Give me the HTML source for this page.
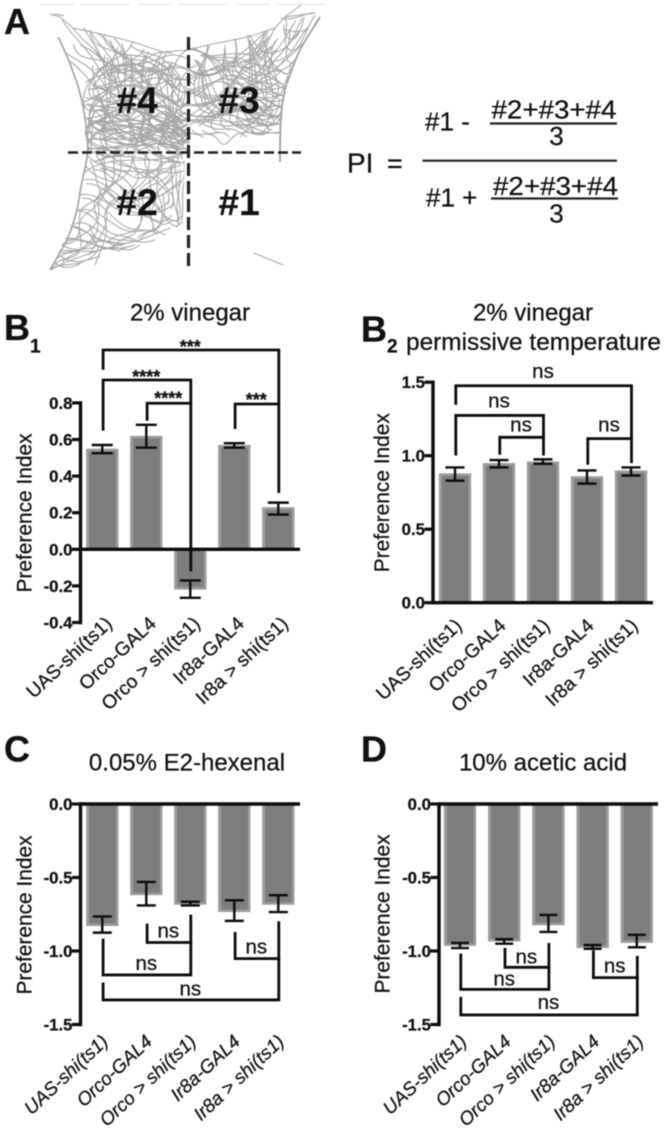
<!DOCTYPE html>
<html lang="en">
<head>
<meta charset="utf-8">
<title>Preference index figure</title>
<style>
html,body{margin:0;padding:0;background:#fff;width:666px;height:1129px;overflow:hidden}
svg{display:block;filter:blur(.4px)}
text{font-family:"Liberation Sans",Arial,sans-serif;fill:#111;stroke:#111;stroke-width:.25}
.traj{fill:none;stroke:#a6a6a6;stroke-width:1.05}
</style>
</head>
<body>
<svg id="fig" xmlns="http://www.w3.org/2000/svg" width="666" height="1129" viewBox="0 0 666 1129">
  <defs>
    <clipPath id="arena-clip">
      <polygon points="50,14 97,33 163,52 208,45 275,28 315,13 300,50 287,83 281,117 280,136 190,138 189,152 185,152 183,225 140,240 50,270 75,217 87,153 83,100 70,63"/>
    </clipPath>
  </defs>
  <rect width="666" height="1129" fill="#fff"/>

  <g>
    <line x1="40" y1="4.5" x2="325" y2="4.5" stroke="#e4e4e4" stroke-width="1" stroke-dasharray="34 6 50 8"/>
    <path fill="none" stroke="#a0a0a0" stroke-width="1.6" d="M58 37 C65 50 70 63 76 80 S85 115 87 133 S87 160 83 177 S80 200 75 217 S68 238 63 247 S55 262 50 270"/>
    <path fill="none" stroke="#a0a0a0" stroke-width="1.8" d="M320 17 C312 30 305 40 300 50 S291 72 287 83 S282 105 281 117 S280 145 280 162"/>
    <path class="traj" d="M50 14 L60 17 L73 28 L97 33 L133 42 L163 52 L187 50 L208 45 L248 37 L275 28 L285 17 L315 13 M301 5 L285 17 M52 15 C56 14 60 14 64 16 M50 270 L66 262 L100 250 L140 240 L170 228"/>
    <path id="q4" class="traj" d="M62 20 C75 40 85 45 95 62 S110 85 125 80 S150 60 165 75 S180 95 187 90
M73 28 C85 45 100 50 110 70 S118 100 135 105 S165 100 187 120
M90 30 C92 50 105 45 120 55 S135 80 150 75 S175 60 188 70
M97 33 C110 40 122 58 118 75 S95 90 90 110 S105 135 125 128 S160 140 187 135
M133 42 C125 60 105 60 95 75 S88 100 100 100 S140 85 160 95 S180 115 188 100
M163 52 C150 65 155 85 140 95 S110 115 92 125 S95 150 120 148
M187 50 C170 60 175 80 160 90 S135 120 115 115 S95 100 88 135
M88 90 C105 85 130 75 150 85 S175 110 187 105
M85 105 C110 110 125 95 145 110 S170 130 188 125
M88 120 C110 125 130 115 150 125 S170 140 187 142
M90 140 C110 135 130 145 150 135 S175 125 188 145
M88 150 C105 145 125 150 145 145 S175 150 186 148
M105 55 C100 75 112 95 105 120 S110 145 118 150
M120 50 C130 70 120 95 130 120 S125 140 135 150
M145 55 C135 80 150 105 142 125 S150 145 155 150
M172 62 C160 85 175 105 165 125 S172 145 178 150
M95 70 C115 62 135 68 155 60 S175 55 186 58
M92 85 C115 95 135 100 150 115 S170 120 186 112
M100 110 C120 100 125 125 145 120 S165 105 180 128
M112 70 C130 60 145 70 150 90 S140 125 160 130 S182 135 188 128
M130 45 C140 55 155 50 170 65 S180 80 178 100 S165 130 185 140
M95 95 C105 105 115 135 135 135 S170 115 185 132
M110 40 C115 55 128 62 140 60 S165 80 185 80
M90 125 C100 115 115 140 130 140 S150 118 170 128 S178 148 187 150
M122 100 C135 110 150 100 165 115 S178 125 186 118
M100 130 C120 120 135 128 155 142 S180 138 188 140"/>
    <path id="q3" class="traj" d="M189 48 C205 52 215 60 225 75 S250 85 265 70 S285 50 300 30
M208 45 C205 65 195 75 200 95 S220 115 240 105 S270 100 283 110
M248 37 C250 55 255 70 250 90 S240 120 260 125 S278 115 282 120
M250 40 C258 60 265 65 280 60 S295 40 310 25
M275 28 C265 45 260 60 272 75 S285 85 288 75
M285 17 C290 30 280 45 290 50 S305 30 315 15
M280 18 C295 22 305 12 315 13
M189 80 C205 70 225 62 245 68 S275 80 284 85
M189 95 C210 85 225 70 240 85 S265 100 283 95
M189 105 C205 110 225 90 245 100 S270 115 282 105
M190 115 C210 120 225 110 240 118 S265 105 280 120
M189 125 C205 115 220 130 235 125 S255 135 280 133
M192 130 C200 140 210 128 218 140 S230 135 240 133 S265 135 280 132
M195 60 C210 75 205 100 220 110 S245 95 255 110 S260 125 275 125
M225 48 C220 70 235 90 228 105 S215 125 230 130
M265 42 C255 60 240 70 230 85 S205 110 195 120
M275 50 C260 75 280 90 270 105 S250 125 245 120
M190 70 C205 80 215 75 230 65 S255 50 272 35
M235 42 C240 55 228 65 240 75 S268 85 282 70
M189 88 C200 98 215 100 230 95 S260 85 280 100
M200 55 C215 60 232 55 245 60 S262 50 268 38
M195 120 C215 125 228 98 250 115 S268 128 281 112
M255 72 C262 85 250 100 262 110 S275 118 280 100"/>
    <path id="q2" class="traj" d="M87 155 C100 170 115 165 130 175 S150 170 170 160
M85 165 C100 185 110 175 125 190 S155 200 172 175
M84 180 C100 175 115 195 130 205 S155 215 170 200
M80 195 C100 190 115 215 135 215 S160 230 172 215
M78 210 C95 205 110 225 125 230 S150 225 165 235
M72 225 C90 215 100 240 120 240 S140 245 155 240
M66 240 C85 235 95 250 110 248 S125 255 140 245
M58 258 C75 245 85 255 100 250 S115 255 125 248
M52 268 C65 262 75 268 90 258 S95 245 90 235
M55 265 C62 255 75 262 80 250 S72 225 85 215 S110 195 105 175 S100 160 110 155
M62 262 C70 255 85 250 95 235 S85 205 100 195 S125 175 120 158
M95 265 C100 250 110 235 105 220 S125 200 135 185 S128 165 135 155
M110 250 C120 235 135 240 140 225 S130 195 145 185 S165 170 160 155
M140 240 C150 225 160 235 162 215 S150 195 165 185 S175 165 172 155
M90 160 C100 180 95 200 115 205 S140 190 150 200 S170 225 178 220
M135 175 C150 165 165 175 178 162
M100 168 C120 175 140 165 155 180 S170 190 168 205
M170 165 C175 185 170 195 176 210 S170 225 183 215
M178 170 C172 185 182 200 180 215
M75 240 C90 240 105 255 135 245
M60 255 C70 265 85 262 100 256
M55 262 C60 270 75 268 82 262
M85 172 C100 160 125 160 145 160 S170 155 180 158
M150 160 C145 175 155 190 150 205 S160 225 150 232"/>
    <g clip-path="url(#arena-clip)">
      <use href="#q4" transform="rotate(9 135 95) translate(4 6)"/>
      <use href="#q4" transform="rotate(-11 135 95) translate(-6 3)"/>
      <use href="#q3" transform="rotate(8 235 85) translate(-4 5)"/>
      <use href="#q3" transform="rotate(-7 235 85) translate(5 -4)"/>
      <use href="#q2" transform="rotate(10 120 205) translate(3 -5)"/>
    </g>
    <line x1="254" y1="253" x2="283" y2="265" stroke="#a9a9a9" stroke-width="1.2"/>
    <line x1="68" y1="152.5" x2="301" y2="152.5" stroke="#222" stroke-width="2.6" stroke-dasharray="10 4"/>
    <line x1="188.5" y1="37" x2="188.5" y2="269" stroke="#222" stroke-width="3.2" stroke-dasharray="13 5"/>
    <text x="116.5" y="113" font-size="37" font-weight="bold">#4</text>
    <text x="218.5" y="113" font-size="37" font-weight="bold">#3</text>
    <text x="116.5" y="215" font-size="37" font-weight="bold">#2</text>
    <text x="218.5" y="215" font-size="37" font-weight="bold">#1</text>
  </g>

  <g>
    <text x="347" y="172.7" font-size="28">PI</text>
    <text x="387" y="172.7" font-size="27">=</text>
    <text x="425" y="130.7" font-size="26">#1 -</text>
    <text x="491.5" y="118.3" font-size="26" textLength="125" lengthAdjust="spacingAndGlyphs">#2+#3+#4</text>
    <line x1="490" y1="123.5" x2="617" y2="123.5" stroke="#222" stroke-width="2.2"/>
    <text x="556.5" y="145" font-size="26" text-anchor="middle">3</text>
    <line x1="422.5" y1="160.7" x2="617" y2="160.7" stroke="#222" stroke-width="2.2"/>
    <text x="426" y="206.7" font-size="26">#1 +</text>
    <text x="493" y="195" font-size="26" textLength="125" lengthAdjust="spacingAndGlyphs">#2+#3+#4</text>
    <line x1="491" y1="198.5" x2="618" y2="198.5" stroke="#222" stroke-width="2.2"/>
    <text x="556.5" y="222.3" font-size="26" text-anchor="middle">3</text>
  </g>

  <g font-weight="bold">
    <text x="4" y="34" font-size="36" font-weight="bold">A</text>
    <text x="4" y="340" font-size="36" font-weight="bold">B</text>
    <text x="30" y="352.7" font-size="19" font-weight="bold">1</text>
    <text x="361" y="341.5" font-size="36" font-weight="bold">B</text>
    <text x="387" y="352.7" font-size="19" font-weight="bold">2</text>
    <text x="4" y="761.7" font-size="36" font-weight="bold">C</text>
    <text x="361" y="761.7" font-size="36" font-weight="bold">D</text>
  </g>

  <g>
    <text x="190" y="320.7" font-size="24" text-anchor="middle">2% vinegar</text>
    <text x="533" y="320.7" font-size="24" text-anchor="middle">2% vinegar</text>
    <text x="406" y="350" font-size="24.4" textLength="255" lengthAdjust="spacingAndGlyphs">permissive temperature</text>
    <text x="187" y="770.7" font-size="24" text-anchor="middle">0.05% E2-hexenal</text>
    <text x="543" y="770.7" font-size="24" text-anchor="middle">10% acetic acid</text>
  </g>
</svg>

<script>
// Shared category labels
const categories = ["UAS-shi(ts1)", "Orco-GAL4", "Orco > shi(ts1)", "Ir8a-GAL4", "Ir8a > shi(ts1)"];

// B1: 2% vinegar
const b1Values = [0.55, 0.62, -0.22, 0.57, 0.23];
const b1ErrLow = [0.525, 0.555, -0.265, 0.555, 0.19];
const b1ErrHigh = [0.57, 0.68, -0.17, 0.58, 0.255];
const b1Ticks = ["0.8", "0.6", "0.4", "0.2", "0.0", "-0.2", "-0.4"];
// [from bar, to bar, bracket level, left end value, right end value]
const b1Brackets = [[0, 4, 1.089, 0.989, 0.315], [0, 2, 0.925, 0.656, -0.113], [1, 2, 0.798, 0.71, 0.798], [3, 4, 0.794, 0.665, 0.794]];
// [bar position, baseline value, text]
const b1Notes = [[2, 1.073, "***"], [1, 0.91, "****"], [1.5, 0.792, "****"], [3.5, 0.783, "***"]];

// B2: 2% vinegar, permissive temperature
const b2Values = [0.88, 0.95, 0.96, 0.86, 0.9];
const b2ErrLow = [0.83, 0.92, 0.945, 0.81, 0.865];
const b2ErrHigh = [0.92, 0.97, 0.975, 0.9, 0.92];
const b2Ticks = ["1.5", "1.0", "0.5", "0.0"];
const b2Brackets = [[0, 4, 1.476, 1.356, 0.959], [0, 2, 1.274, 1.011, 1.011], [1, 2, 1.125, 1.016, 1.125], [3, 4, 1.116, 0.948, 1.116]];
const b2Notes = [[2, 1.527, "ns"], [1, 1.329, "ns"], [1.5, 1.163, "ns"], [3.5, 1.163, "ns"]];

// C: 0.05% E2-hexenal
const cValues = [-0.83, -0.62, -0.685, -0.735, -0.685];
const cErrLow = [-0.875, -0.69, -0.69, -0.795, -0.735];
const cErrHigh = [-0.765, -0.53, -0.665, -0.655, -0.62];
const cTicks = ["0.0", "-0.5", "-1.0", "-1.5"];
const cBrackets = [[1, 2, -0.942, -0.823, -0.942], [0, 2, -1.163, -0.925, -0.762], [3, 4, -1.052, -0.88, -1.052], [0, 4, -1.333, -1.224, -0.807]];
const cNotes = [[1.5, -0.907, "ns"], [1, -1.129, "ns"], [3.5, -1.016, "ns"], [2, -1.304, "ns"]];

// D: 10% acetic acid
const dValues = [-0.965, -0.935, -0.825, -0.98, -0.945];
const dErrLow = [-0.98, -0.95, -0.87, -0.985, -0.975];
const dErrHigh = [-0.945, -0.92, -0.755, -0.96, -0.89];
const dTicks = ["0.0", "-0.5", "-1.0", "-1.5"];
const dBrackets = [[1, 2, -1.111, -0.988, -1.111], [0, 2, -1.261, -1.027, -0.955], [3, 4, -1.181, -1.005, -1.181], [0, 4, -1.435, -1.322, -1.043]];
const dNotes = [[1.5, -1.084, "ns"], [1, -1.233, "ns"], [3.5, -1.145, "ns"], [2, -1.396, "ns"]];

const NS = "http://www.w3.org/2000/svg";
const fig = document.getElementById("fig");

function make(tag, attrs, parent, text) {
  const node = document.createElementNS(NS, tag);
  for (const k in attrs) node.setAttribute(k, attrs[k]);
  if (text !== undefined) node.textContent = text;
  parent.appendChild(node);
  return node;
}

function drawChart(id, values, errLow, errHigh, ticks, brackets, notes, frame) {
  const barX = i => frame.firstBar + i * frame.step;
  const valueY = v => frame.zero - v * frame.unit;
  const ink = "#0c0c0c";

  const group = make("g", {}, fig);
  
  

  values.forEach((v, i) => {
    const y0 = valueY(0), y1 = valueY(v);
    const top = Math.min(y0, y1), h = Math.abs(y1 - y0);
    const outer = make("rect", {x: barX(i) - frame.barWidth / 2, y: top, width: frame.barWidth, height: h, fill: "#9c9c9c"}, group);
    
    
    const innerH = Math.max(0, h - 2.5);
    const innerTop = v >= 0 ? top + 2.5 : top;
    const inner = make("rect", {x: barX(i) - frame.barWidth / 2 + 3, y: innerTop, width: frame.barWidth - 5.5, height: innerH, fill: "#7e7e7e"}, group);
    
    
  });

  errLow.forEach((low, i) => {
    const x = barX(i), high = errHigh[i], hw = frame.cap / 2;
    const err = make("path", {
      d: "M" + (x - hw) + " " + valueY(high) + "H" + (x + hw) + "M" + x + " " + valueY(high) + "V" + valueY(low) + "M" + (x - hw) + " " + valueY(low) + "H" + (x + hw),
      fill: "none", stroke: ink, "stroke-width": 2.4
    }, group);
    
    
  });

  const tickValues = ticks.map(parseFloat);
  const yAxis = make("line", {x1: frame.axisX, x2: frame.axisX, y1: valueY(Math.max(...tickValues)) - 1.7, y2: valueY(Math.min(...tickValues)) + 1.7, stroke: ink, "stroke-width": 3.4}, group);
  
  

  const xAxis = make("line", {x1: frame.axisX, x2: frame.axisEnd, y1: valueY(0), y2: valueY(0), stroke: ink, "stroke-width": 3.4}, group);
  
  

  ticks.forEach(label => {
    const v = parseFloat(label), y = valueY(v);
    const tick = make("line", {x1: frame.axisX - 8.5, x2: frame.axisX, y1: y, y2: y, stroke: ink, "stroke-width": 3.2}, group);
    
    
    const tickText = make("text", {x: frame.axisX - 8, y: y + 6, "font-size": 16.8, "font-weight": "bold", "text-anchor": "end"}, group, label);
    
    
  });

  const title = make("text", {
    transform: "translate(" + frame.titleX + " " + frame.titleY + ") rotate(-90)",
    "font-size": 20.9, "text-anchor": "middle"
  }, group, "Preference Index");
  
  

  categories.forEach((name, i) => {
    const cat = make("text", {
      transform: "translate(" + (barX(i) + frame.labelDx) + " " + frame.labelY + ") rotate(-43)",
      "font-size": frame.labelSize, "text-anchor": "end", "font-style": frame.italic ? "italic" : "normal"
    }, group, name);
    
    
  });

  brackets.forEach((b, i) => {
    const xa = barX(b[0]) + 0.8, xb = barX(b[1]) + 0.5;
    const br = make("path", {
      d: "M" + xa + " " + valueY(b[3]) + "V" + valueY(b[2]) + "H" + xb + "M" + xb + " " + valueY(b[4]) + "V" + valueY(b[2]),
      fill: "none", stroke: ink, "stroke-width": 2.8, "stroke-linecap": "square"
    }, group);
    
    
  });

  notes.forEach((n, i) => {
    const stars = n[2].indexOf("*") >= 0;
    const note = make("text", {
      x: barX(n[0]), y: valueY(n[1]), "font-size": stars ? 18 : 20.5, "font-weight": stars ? "bold" : "normal", "text-anchor": "middle"
    }, group, n[2]);
    
    
  });
}

drawChart("b1", b1Values, b1ErrLow, b1ErrHigh, b1Ticks, b1Brackets, b1Notes,
  {firstBar: 102.3, step: 44, barWidth: 32.3, zero: 549.3, unit: 183, axisX: 80.5, axisEnd: 300, cap: 21, titleX: 31.7, titleY: 513, labelDx: 11, labelY: 625, labelSize: 19.2, italic: false});
drawChart("b2", b2Values, b2ErrLow, b2ErrHigh, b2Ticks, b2Brackets, b2Notes,
  {firstBar: 455, step: 44, barWidth: 32.3, zero: 602.7, unit: 147, axisX: 433, axisEnd: 653, cap: 19, titleX: 389, titleY: 492.7, labelDx: 8, labelY: 627, labelSize: 19.2, italic: false});
drawChart("c", cValues, cErrLow, cErrHigh, cTicks, cBrackets, cNotes,
  {firstBar: 102.3, step: 44, barWidth: 32.3, zero: 804, unit: 147, axisX: 80.5, axisEnd: 300, cap: 19, titleX: 31.7, titleY: 915, labelDx: 7, labelY: 1043, labelSize: 18.8, italic: true});
drawChart("d", dValues, dErrLow, dErrHigh, dTicks, dBrackets, dNotes,
  {firstBar: 460, step: 44.2, barWidth: 32.3, zero: 804, unit: 147, axisX: 439, axisEnd: 658, cap: 18, titleX: 389.7, titleY: 914, labelDx: 8, labelY: 1043, labelSize: 18.8, italic: true});
</script>
</body>
</html>
